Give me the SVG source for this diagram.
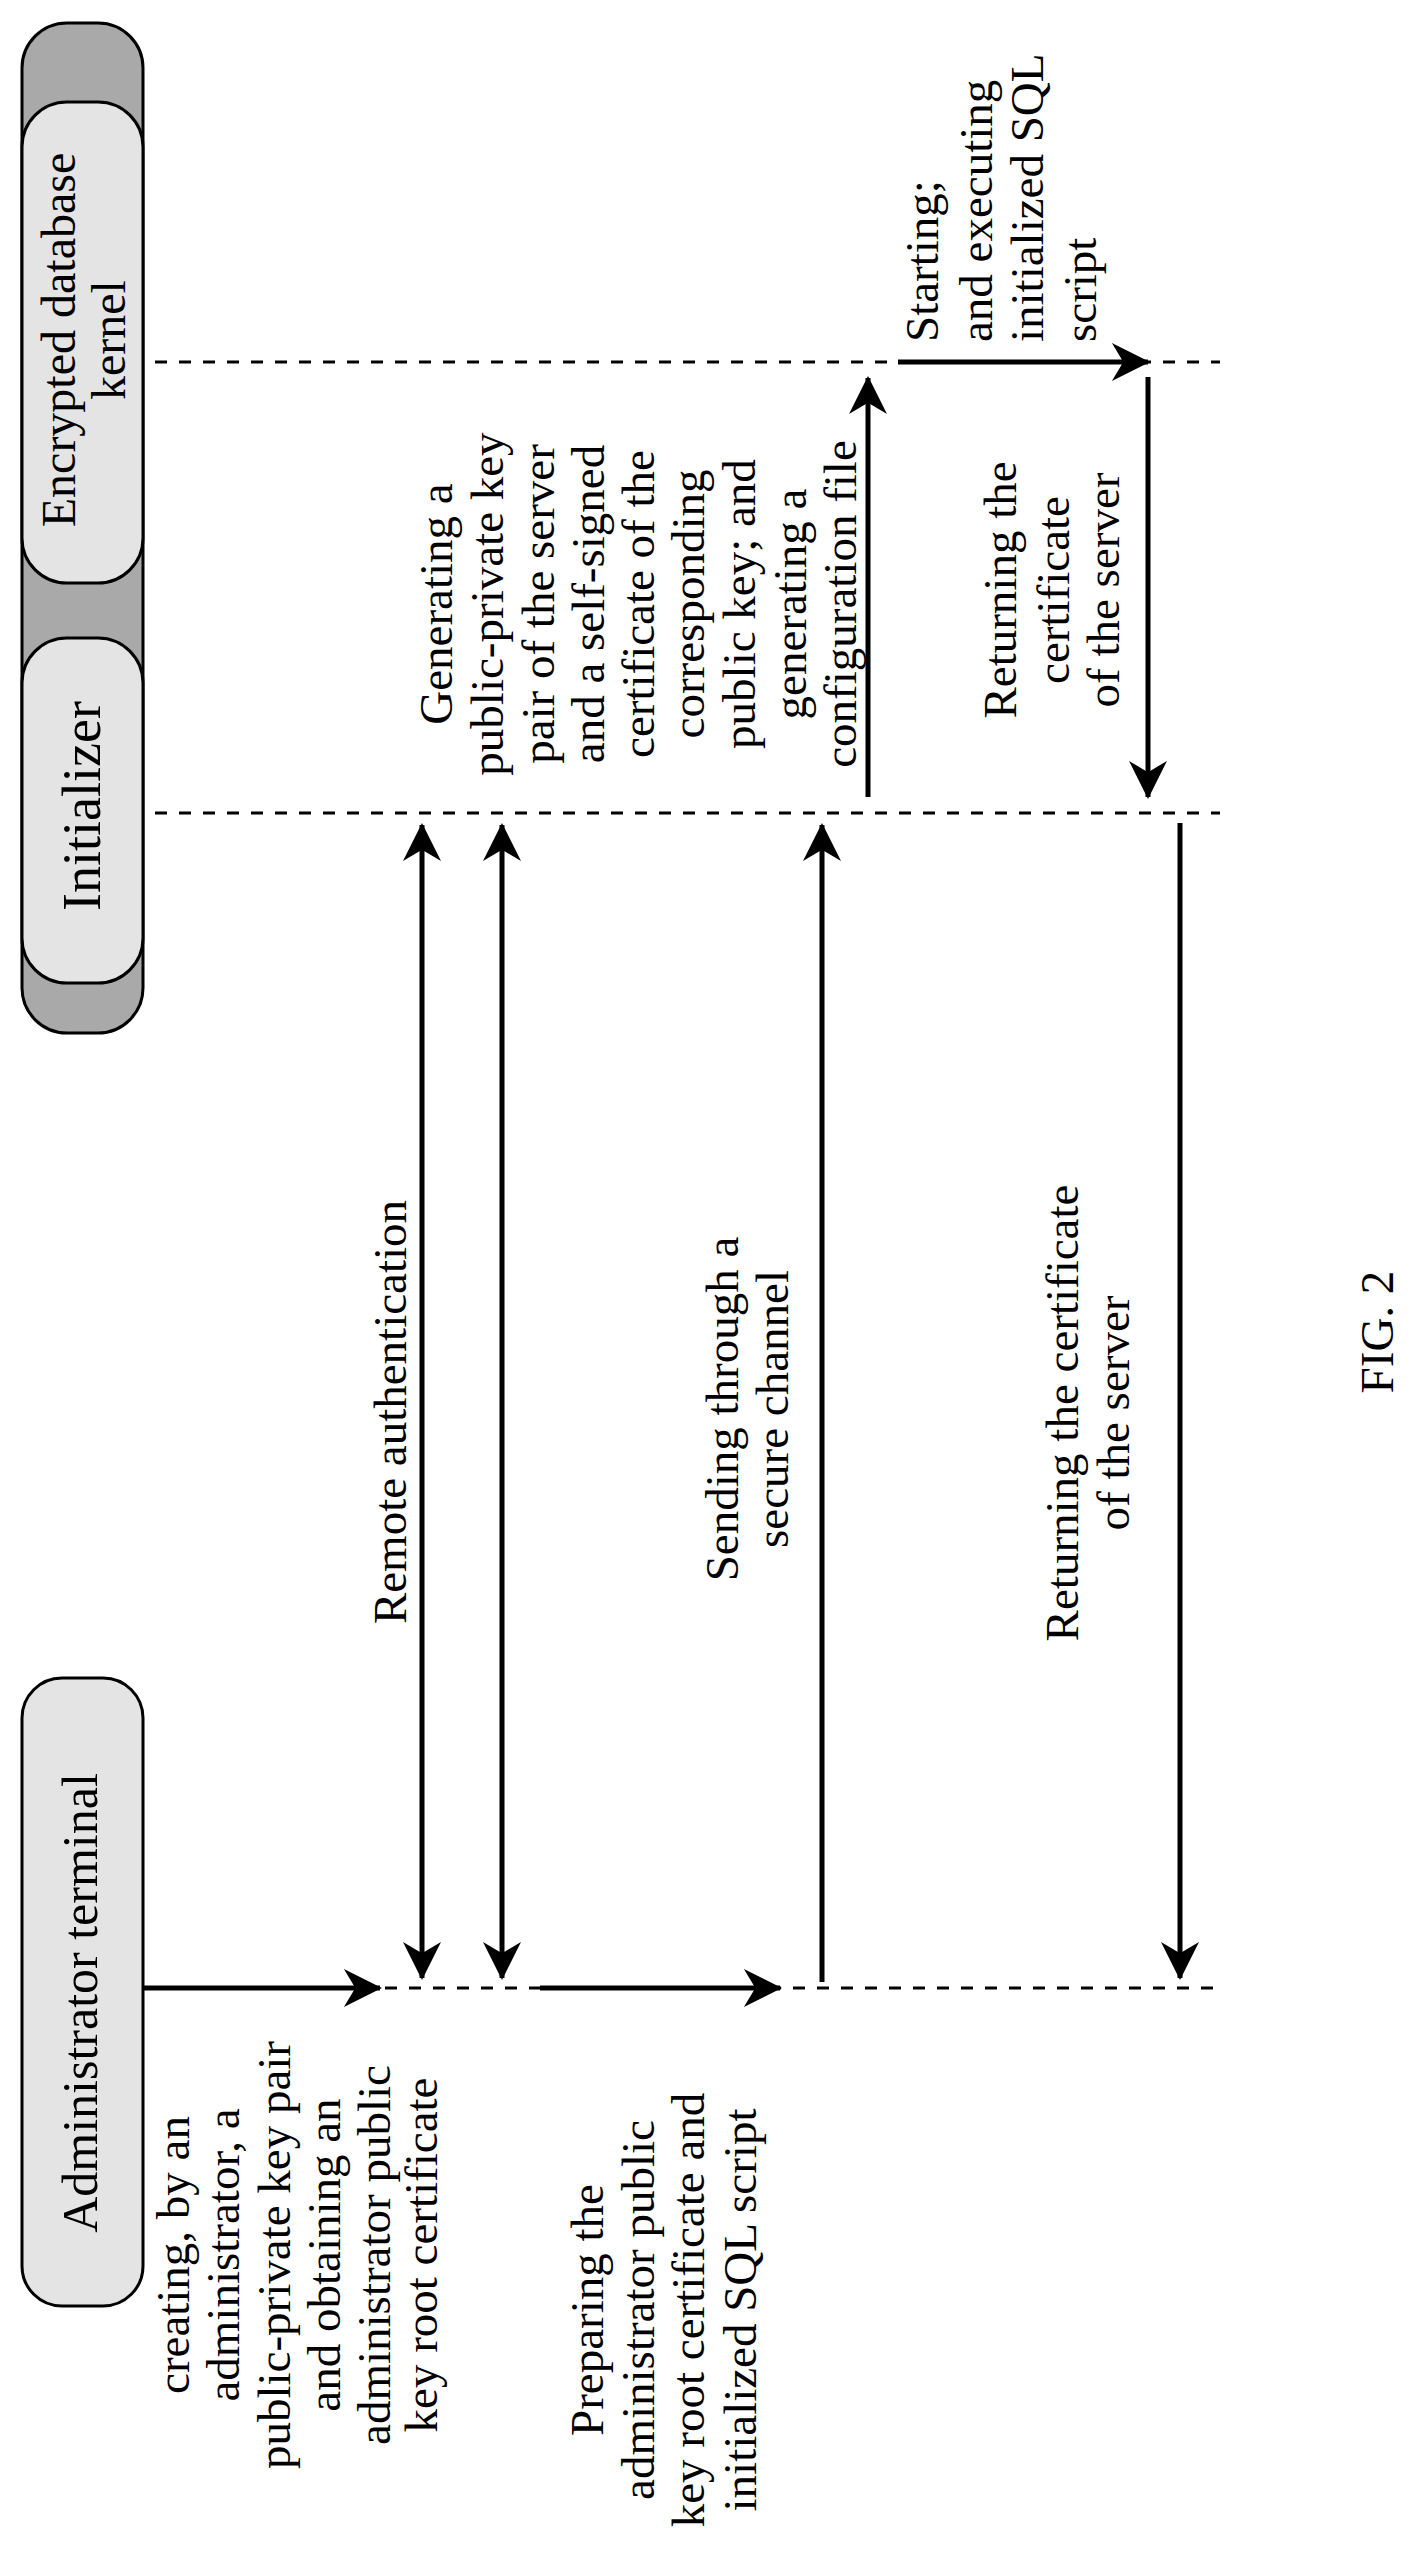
<svg xmlns="http://www.w3.org/2000/svg" width="1418" height="2573" viewBox="0 0 1418 2573">
<style>
text{font-family:"Liberation Serif","Times New Roman",serif;fill:#000;text-anchor:middle;dominant-baseline:central}
.lbl{font-size:47px}
.ttl{font-size:48px}
.life{stroke:#000;stroke-width:3;stroke-dasharray:12 12;fill:none}
.arr{stroke:#000;stroke-width:5;fill:none}
.inner{fill:#e4e4e4;stroke:#000;stroke-width:3}
.outer{fill:#a9a9a9;stroke:#000;stroke-width:3}
</style>
<defs>
<marker id="ah" viewBox="0 0 10 10" refX="9.5" refY="5" markerWidth="40" markerHeight="38" markerUnits="userSpaceOnUse" orient="auto-start-reverse">
<path d="M0,0 L10,5 L0,10 L3,5 Z" fill="#000"/>
</marker>
</defs>
<rect width="1418" height="2573" fill="#fff"/>
<g id="server-group"><rect class="outer" x="22" y="23" width="121" height="1010" rx="45"/></g>
<g id="kernel"><rect class="inner" x="22" y="102" width="121" height="481" rx="45"/>
<text class="ttl" transform="rotate(-90 58 340)" x="58" y="340">Encrypted database</text>
<text class="ttl" transform="rotate(-90 108 340)" x="108" y="340">kernel</text></g>
<g id="initializer"><rect class="inner" x="22" y="638" width="121" height="345" rx="45"/>
<text class="ttl" style="font-size:54px" transform="rotate(-90 82 806)" x="82" y="806">Initializer</text></g>
<g id="admin"><rect class="inner" x="22" y="1678" width="121" height="628" rx="40"/>
<text class="ttl" style="font-size:50px" transform="rotate(-90 80 2003)" x="80" y="2003">Administrator terminal</text></g>
<g id="lifelines">
<line class="life" x1="155" y1="362" x2="1220" y2="362"/>
<line class="life" x1="155" y1="813" x2="1220" y2="813"/>
<line class="life" x1="385" y1="1988" x2="1220" y2="1988"/>
</g>
<g id="connectors">
<line class="arr" x1="143" y1="1988" x2="380" y2="1988" marker-end="url(#ah)"/>
<line class="arr" x1="422" y1="825" x2="422" y2="1978" marker-start="url(#ah)" marker-end="url(#ah)"/>
<line class="arr" x1="502" y1="825" x2="502" y2="1978" marker-start="url(#ah)" marker-end="url(#ah)"/>
<line class="arr" x1="540" y1="1988" x2="780" y2="1988" marker-end="url(#ah)"/>
<line class="arr" x1="822" y1="1982" x2="822" y2="825" marker-end="url(#ah)"/>
<line class="arr" x1="868" y1="797" x2="868" y2="378" marker-end="url(#ah)"/>
<line class="arr" x1="898" y1="362" x2="1148" y2="362" marker-end="url(#ah)"/>
<line class="arr" x1="1148" y1="377" x2="1148" y2="797" marker-end="url(#ah)"/>
<line class="arr" x1="1180" y1="823" x2="1180" y2="1978" marker-end="url(#ah)"/>
</g>
<g id="labels">
<text class="lbl" transform="rotate(-90 173 2255)" x="173" y="2255">creating, by an</text>
<text class="lbl" transform="rotate(-90 223 2255)" x="223" y="2255">administrator, a</text>
<text class="lbl" transform="rotate(-90 274 2255)" x="274" y="2255">public-private key pair</text>
<text class="lbl" transform="rotate(-90 324 2255)" x="324" y="2255">and obtaining an</text>
<text class="lbl" transform="rotate(-90 374 2255)" x="374" y="2255">administrator public</text>
<text class="lbl" transform="rotate(-90 421 2255)" x="421" y="2255">key root certificate</text>
<text class="lbl" transform="rotate(-90 587 2310)" x="587" y="2310">Preparing the</text>
<text class="lbl" transform="rotate(-90 638 2310)" x="638" y="2310">administrator public</text>
<text class="lbl" transform="rotate(-90 688 2310)" x="688" y="2310">key root certificate and</text>
<text class="lbl" transform="rotate(-90 740 2310)" x="740" y="2310">initialized SQL script</text>
<text class="lbl" transform="rotate(-90 390 1412)" x="390" y="1412">Remote authentication</text>
<text class="lbl" transform="rotate(-90 722 1409)" x="722" y="1409">Sending through a</text>
<text class="lbl" transform="rotate(-90 772 1409)" x="772" y="1409">secure channel</text>
<text class="lbl" transform="rotate(-90 1062 1413)" x="1062" y="1413">Returning the certificate</text>
<text class="lbl" transform="rotate(-90 1113 1413)" x="1113" y="1413">of the server</text>
<text class="lbl" transform="rotate(-90 436 604)" x="436" y="604">Generating a</text>
<text class="lbl" transform="rotate(-90 487 604)" x="487" y="604">public-private key</text>
<text class="lbl" transform="rotate(-90 538 604)" x="538" y="604">pair of the server</text>
<text class="lbl" transform="rotate(-90 588 604)" x="588" y="604">and a self-signed</text>
<text class="lbl" transform="rotate(-90 638 604)" x="638" y="604">certificate of the</text>
<text class="lbl" transform="rotate(-90 688 604)" x="688" y="604">corresponding</text>
<text class="lbl" transform="rotate(-90 739 604)" x="739" y="604">public key; and</text>
<text class="lbl" transform="rotate(-90 790 604)" x="790" y="604">generating a</text>
<text class="lbl" transform="rotate(-90 840 604)" x="840" y="604">configuration file</text>
<text class="lbl" style="text-anchor:start" transform="rotate(-90 922 342)" x="922" y="342">Starting;</text>
<text class="lbl" style="text-anchor:start" transform="rotate(-90 976 342)" x="976" y="342">and executing</text>
<text class="lbl" style="text-anchor:start" transform="rotate(-90 1027 342)" x="1027" y="342">initialized SQL</text>
<text class="lbl" style="text-anchor:start" transform="rotate(-90 1080 342)" x="1080" y="342">script</text>
<text class="lbl" transform="rotate(-90 1000 590)" x="1000" y="590">Returning the</text>
<text class="lbl" transform="rotate(-90 1053 590)" x="1053" y="590">certificate</text>
<text class="lbl" transform="rotate(-90 1103 590)" x="1103" y="590">of the server</text>
<text class="lbl" transform="rotate(-90 1377 1332)" x="1377" y="1332">FIG. 2</text>
</g>
</svg>
